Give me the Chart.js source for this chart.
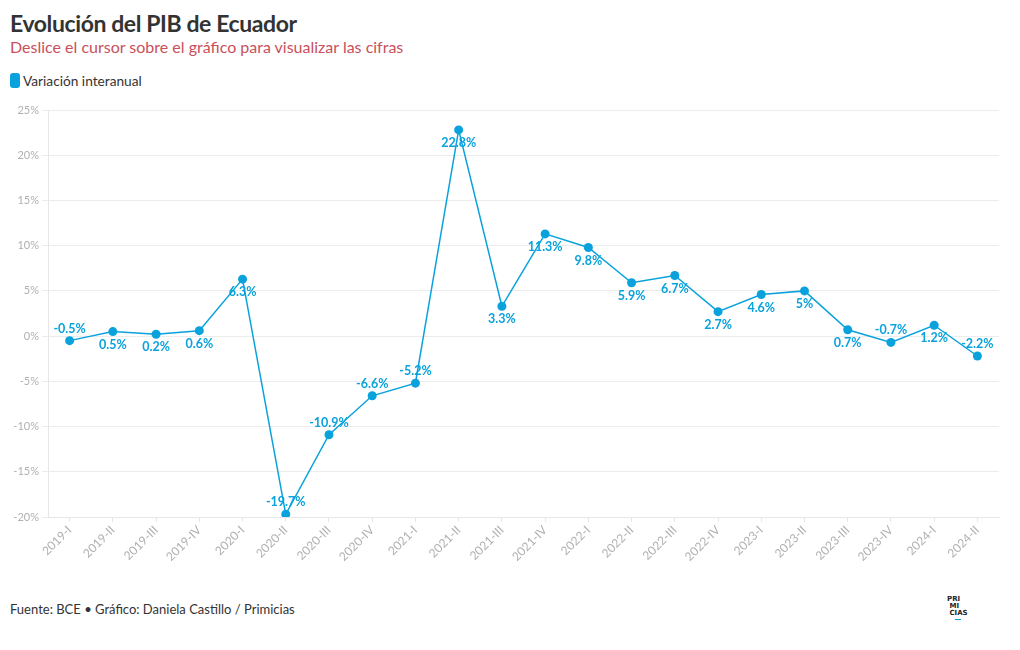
<!DOCTYPE html>
<html><head><meta charset="utf-8">
<script src="https://cdn.jsdelivr.net/npm/chart.js@4"></script>
<style>
html,body{margin:0;padding:0;background:#fff;width:1020px;height:650px;overflow:hidden;font-family:"Source Sans Pro",Lato,"Noto Sans",sans-serif;}
#title{position:absolute;left:10px;top:9px;font-size:23px;font-weight:700;color:#333;letter-spacing:-0.4px}
#sub{position:absolute;left:10px;top:37px;font-size:16px;color:#c9505b}
#legend{position:absolute;left:10px;top:72px;font-size:13.7px;color:#333;display:flex;align-items:center}
#legend span.sw{display:inline-block;width:10px;height:15px;border-radius:3px;background:#0aa2dc;margin-right:3px}
#foot{position:absolute;left:10px;top:601px;font-size:13px;color:#333}
#logo{position:absolute;left:947px;top:596px;font-size:7px;font-weight:900;line-height:7px;color:#222;font-family:"DejaVu Sans",sans-serif}
#logo .u{display:block;width:6px;height:1px;background:#0aa2dc;margin-left:8px;margin-top:2px}
#wrap{position:absolute;left:0;top:100px;width:1020px;height:490px}
</style></head>
<body>
<div id="title">Evolución del PIB de Ecuador</div>
<div id="sub">Deslice el cursor sobre el gráfico para visualizar las cifras</div>
<div id="legend"><span class="sw"></span>Variación interanual</div>
<div id="wrap"><canvas id="c" width="1020" height="490"></canvas></div>
<div id="foot">Fuente: BCE • Gráfico: Daniela Castillo / Primicias</div>
<div id="logo">PRI<br>&nbsp;MI<br>&nbsp;CIAS<span class="u"></span></div>
<script>
const categories = ["2019-I","2019-II","2019-III","2019-IV","2020-I","2020-II","2020-III","2020-IV","2021-I","2021-II","2021-III","2021-IV","2022-I","2022-II","2022-III","2022-IV","2023-I","2023-II","2023-III","2023-IV","2024-I","2024-II"];
const variacion = [-0.5,0.5,0.2,0.6,6.3,-19.7,-10.9,-6.6,-5.2,22.8,3.3,11.3,9.8,5.9,6.7,2.7,4.6,5,0.7,-0.7,1.2,-2.2];
const yTicks = [-20,-15,-10,-5,0,5,10,15,20,25];
const labelSide = ["up","down","down","down","down","up","up","up","up","down","down","down","down","down","down","down","down","down","down","up","down","up"];

const COLOR = "#0aa2dc";
const FONT = "'Source Sans Pro', Lato, 'Noto Sans', sans-serif";

const labelPlugin = {
  id: "valueLabels",
  afterDatasetsDraw(chart) {
    const ctx = chart.ctx;
    const meta = chart.getDatasetMeta(0);
    ctx.save();
    ctx.font = "bold 12.5px " + FONT;
    ctx.fillStyle = COLOR;
    ctx.textAlign = "center";
    ctx.textBaseline = "middle";
    meta.data.forEach((pt, i) => {
      const v = chart.data.datasets[0].data[i];
      const dy = labelSide[i] === "up" ? -12 : 13;
      ctx.fillText(v + "%", pt.x, pt.y + dy);
    });
    ctx.restore();
  }
};

new Chart(document.getElementById("c"), {
  type: "line",
  data: {
    labels: categories,
    datasets: [{
      label: "Variación interanual",
      data: variacion,
      borderColor: COLOR,
      backgroundColor: COLOR,
      borderWidth: 1.5,
      pointRadius: 4.5,
      pointHoverRadius: 5,
      pointBorderWidth: 0,
      tension: 0,
      fill: false
    }]
  },
  options: {
    responsive: false,
    animation: false,
    devicePixelRatio: 1,
    layout: { padding: { top: 10, right: 21, bottom: 0, left: 0 } },
    plugins: { legend: { display: false }, tooltip: { enabled: false } },
    scales: {
      x: {
        type: "category",
        offset: true,
        grid: { display: true, drawOnChartArea: false, drawTicks: true, tickLength: 5, color: "#e6e6e6", offset: false },
        border: { color: "#e6e6e6" },
        ticks: {
          color: "#b0b0b0",
          font: { family: FONT, size: 12 },
          maxRotation: 45, minRotation: 45,
          autoSkip: false,
          padding: 1
        },
        afterFit(scale) { scale.height = 73; }
      },
      y: {
        min: -20, max: 25,
        afterBuildTicks(scale) { scale.ticks = yTicks.map(v => ({ value: v })); },
        grid: { color: "#ececec", tickLength: 6 },
        border: { color: "#e6e6e6" },
        ticks: {
          color: "#b0b0b0",
          font: { family: FONT, size: 11 },
          padding: 3,
          callback: v => v + "%"
        },
        afterFit(scale) { scale.width = 48; }
      }
    }
  },
  plugins: [labelPlugin]
});
</script>
</body></html>
